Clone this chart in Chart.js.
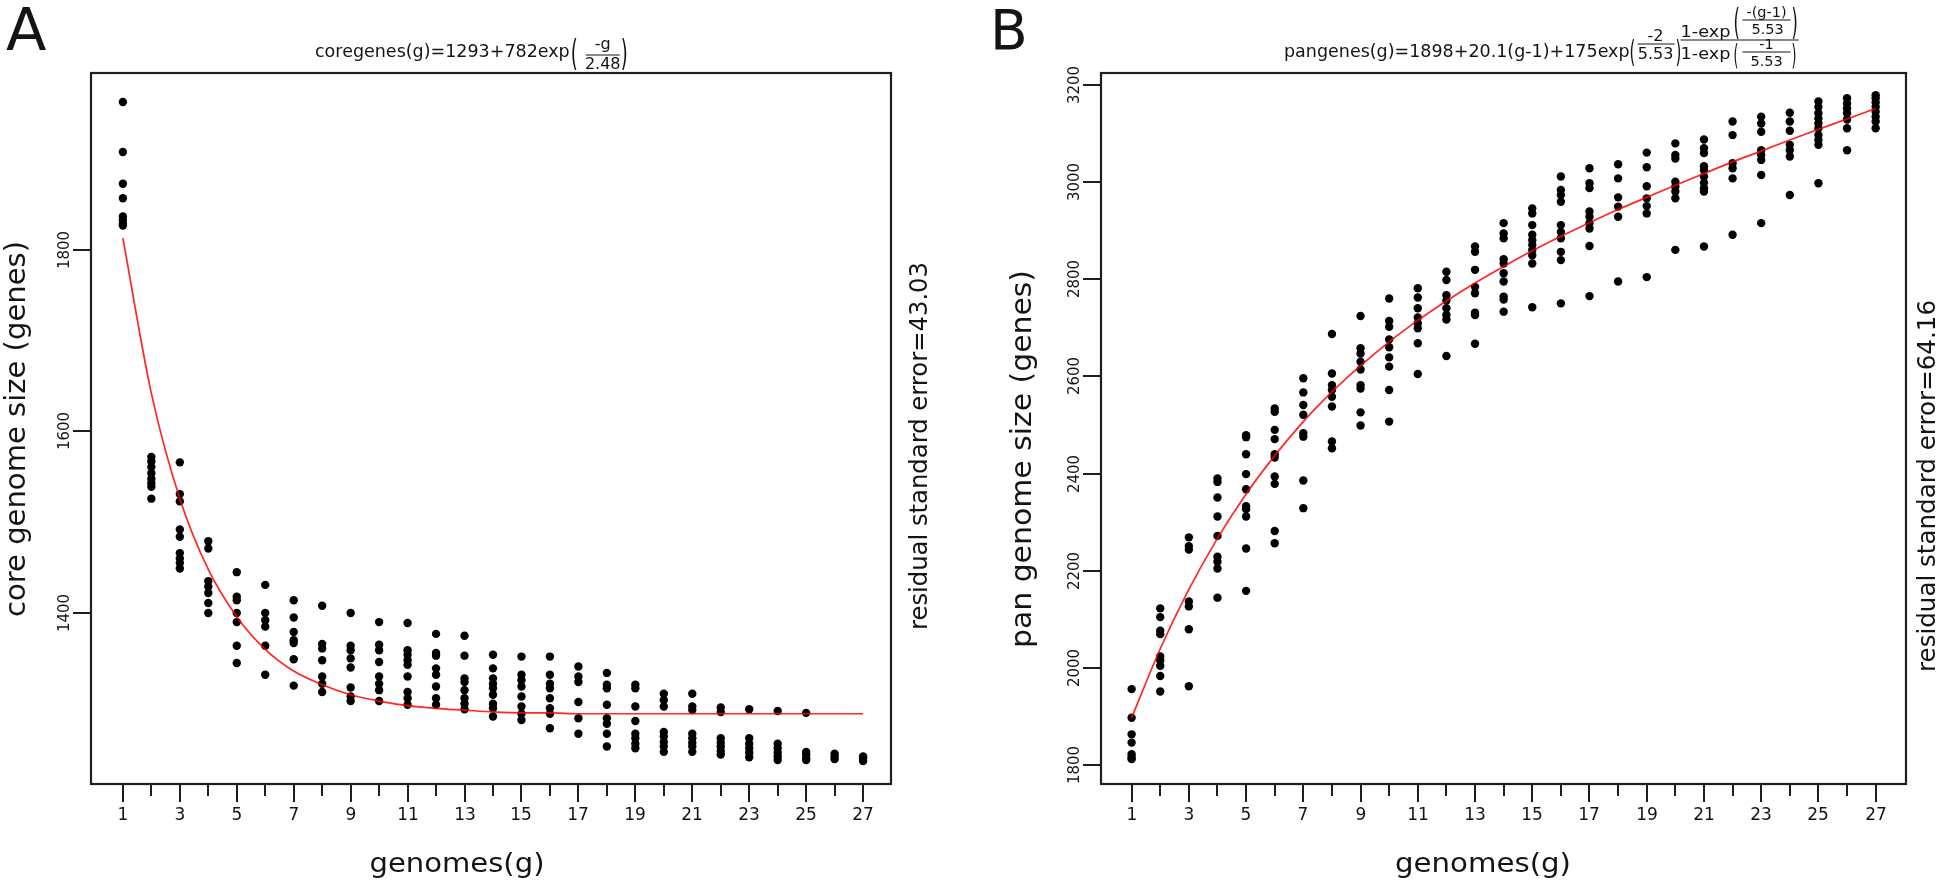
<!DOCTYPE html>
<html>
<head>
<meta charset="utf-8">
<script src="https://cdn.jsdelivr.net/npm/chart.js@4.4.0/dist/chart.umd.min.js"></script>
<style>
    html, body { margin: 0; padding: 0; background: #fff; }
    #wrap { position: relative; width: 1946px; height: 882px; overflow: hidden; }
    #wrap canvas { position: absolute; left: 0; top: 0; }
</style>
</head>
<body>
<div id="wrap">
    <canvas id="coreChart" width="1946" height="882"></canvas>
    <canvas id="panChart" width="1946" height="882"></canvas>
</div>
<script>
// genomes sampled (x)
const genomes = [1, 2, 3, 4, 5, 6, 7, 8, 9, 10, 11, 12, 13, 14, 15, 16, 17, 18, 19, 20, 21, 22, 23, 24, 25, 26, 27];
const xTickLabels = [1, 3, 5, 7, 9, 11, 13, 15, 17, 19, 21, 23, 25, 27];
const coreTickLabels = [1400, 1600, 1800];
const panTickLabels = [1800, 2000, 2200, 2400, 2600, 2800, 3000, 3200];

// core genome sizes for each number of genomes (one list per g)
const coreSizes = [
    [1963, 1908, 1873, 1857, 1837, 1833, 1829, 1827],
    [1572, 1567, 1561, 1554, 1548, 1543, 1539, 1526],
    [1566, 1531, 1523, 1492, 1484, 1466, 1460, 1455, 1449],
    [1479, 1471, 1435, 1429, 1422, 1411, 1400],
    [1445, 1418, 1414, 1400, 1390, 1364, 1345],
    [1431, 1400, 1392, 1385, 1364, 1332],
    [1414, 1395, 1379, 1370, 1367, 1349, 1320],
    [1408, 1366, 1361, 1348, 1330, 1322, 1313],
    [1400, 1364, 1359, 1350, 1340, 1318, 1308, 1303],
    [1390, 1365, 1359, 1346, 1330, 1322, 1315, 1303],
    [1389, 1359, 1354, 1348, 1343, 1330, 1313, 1306, 1299],
    [1377, 1356, 1353, 1339, 1332, 1319, 1306, 1299],
    [1375, 1353, 1328, 1324, 1315, 1306, 1300, 1294],
    [1354, 1339, 1328, 1322, 1317, 1310, 1300, 1295, 1286],
    [1352, 1332, 1326, 1319, 1308, 1297, 1289, 1282],
    [1352, 1332, 1322, 1317, 1306, 1295, 1289, 1273],
    [1341, 1330, 1324, 1302, 1284, 1267],
    [1334, 1321, 1317, 1299, 1284, 1278, 1267, 1253],
    [1321, 1317, 1297, 1281, 1267, 1262, 1256, 1251],
    [1311, 1304, 1297, 1269, 1264, 1258, 1253, 1247],
    [1311, 1297, 1293, 1267, 1262, 1257, 1253, 1247],
    [1296, 1291, 1262, 1257, 1253, 1248, 1244],
    [1294, 1262, 1256, 1251, 1246, 1241],
    [1292, 1256, 1251, 1246, 1242, 1238],
    [1290, 1247, 1244, 1240, 1238],
    [1245, 1242, 1239],
    [1242, 1240, 1237]
];
// red fitted curve, read at each g
const coreFit = [1813, 1642, 1526, 1448, 1396, 1360, 1336, 1321, 1310, 1303, 1298, 1295, 1293, 1291, 1290, 1290, 1289, 1289, 1289, 1289, 1289, 1289, 1289, 1289, 1289, 1289, 1289];

// pan genome sizes for each number of genomes
const panSizes = [
    [1957, 1898, 1864, 1847, 1823, 1817, 1813],
    [2123, 2105, 2077, 2070, 2024, 2016, 2005, 1984, 1952],
    [2269, 2251, 2244, 2137, 2127, 2080, 1963],
    [2390, 2383, 2351, 2312, 2272, 2229, 2219, 2205, 2145],
    [2479, 2475, 2440, 2399, 2368, 2333, 2327, 2312, 2246, 2159],
    [2534, 2527, 2490, 2471, 2440, 2433, 2394, 2379, 2282, 2257],
    [2596, 2567, 2541, 2521, 2483, 2476, 2386, 2329],
    [2687, 2606, 2582, 2572, 2558, 2538, 2466, 2452],
    [2724, 2658, 2647, 2630, 2614, 2582, 2575, 2526, 2499],
    [2760, 2714, 2702, 2676, 2660, 2639, 2620, 2572, 2507],
    [2781, 2762, 2740, 2721, 2709, 2699, 2668, 2605],
    [2815, 2798, 2767, 2756, 2740, 2726, 2717, 2642],
    [2867, 2856, 2819, 2784, 2771, 2731, 2726, 2667],
    [2915, 2894, 2884, 2841, 2832, 2812, 2795, 2764, 2758, 2733],
    [2945, 2935, 2911, 2891, 2880, 2870, 2860, 2849, 2832, 2742],
    [3011, 2983, 2973, 2959, 2911, 2897, 2884, 2856, 2839, 2750],
    [3028, 2997, 2987, 2939, 2928, 2915, 2904, 2868, 2765],
    [3036, 3007, 2968, 2949, 2928, 2795],
    [3060, 3030, 2991, 2966, 2950, 2935, 2804],
    [3079, 3055, 3048, 3000, 2990, 2980, 2966, 2860],
    [3087, 3069, 3059, 3032, 3024, 3011, 2998, 2987, 2980, 2867],
    [3124, 3096, 3038, 3028, 3007, 2891],
    [3134, 3120, 3103, 3065, 3055, 3045, 3014, 2915],
    [3142, 3124, 3105, 3076, 3065, 3052, 2973],
    [3165, 3154, 3141, 3130, 3120, 3110, 3096, 3086, 3076, 2997],
    [3172, 3161, 3151, 3141, 3128, 3110, 3065],
    [3178, 3172, 3163, 3154, 3144, 3134, 3124, 3110]
];
const panFit = [1898, 2040, 2162, 2267, 2358, 2437, 2507, 2568, 2622, 2671, 2715, 2755, 2792, 2826, 2858, 2888, 2916, 2943, 2968, 2993, 3017, 3041, 3063, 3086, 3108, 3129, 3151];

const FONT = '"DejaVu Sans", "Liberation Sans", sans-serif';
const INK = '#141414';

function toPoints(sizes) {
    const pts = [];
    sizes.forEach((vals, i) => vals.forEach(v => pts.push({ x: genomes[i], y: v })));
    return pts;
}

function label(ctx, str, x, y, size, opts = {}) {
    ctx.save();
    ctx.font = `${size}px ${FONT}`;
    ctx.fillStyle = INK;
    ctx.textAlign = opts.align || 'left';
    ctx.textBaseline = opts.baseline || 'alphabetic';
    ctx.translate(x, y);
    if (opts.rotate) ctx.rotate(opts.rotate);
    const w = ctx.measureText(str).width;
    const sx = opts.fit ? opts.fit / w : (opts.sx || 1);
    ctx.scale(sx, 1);
    ctx.fillText(str, 0, 0);
    ctx.restore();
    return w * sx;
}

function bar(ctx, x1, x2, y) {
    ctx.save();
    ctx.strokeStyle = INK;
    ctx.lineWidth = 1.2;
    ctx.beginPath();
    ctx.moveTo(x1, y);
    ctx.lineTo(x2, y);
    ctx.stroke();
    ctx.restore();
}

// box, ticks and labels drawn from the chart's own scales
function drawFrame(chart, yTicks) {
    const ctx = chart.ctx, a = chart.chartArea;
    const xs = chart.scales.x, ys = chart.scales.y;
    ctx.save();
    ctx.strokeStyle = '#1e1e1e';
    ctx.lineWidth = 2.2;
    ctx.strokeRect(a.left, a.top, a.right - a.left, a.bottom - a.top);
    ctx.lineWidth = 2;
    genomes.forEach(g => {
        const px = Math.round(xs.getPixelForValue(g));
        const major = xTickLabels.includes(g);
        ctx.beginPath();
        ctx.moveTo(px, a.bottom);
        ctx.lineTo(px, a.bottom + (major ? 18 : 12));
        ctx.stroke();
        if (major) label(ctx, String(g), px, a.bottom + 36, 17, { align: 'center' });
    });
    yTicks.forEach(v => {
        const py = Math.round(ys.getPixelForValue(v));
        ctx.beginPath();
        ctx.moveTo(a.left - 18, py);
        ctx.lineTo(a.left, py);
        ctx.stroke();
        label(ctx, String(v), a.left - 22, py, 15, { align: 'center', rotate: -Math.PI / 2 });
    });
    ctx.restore();
}

const corePlugin = {
    id: 'coreDecor',
    afterDraw(chart) {
        const ctx = chart.ctx;
        drawFrame(chart, coreTickLabels);
        label(ctx, 'A', 6, 50, 59);
        let x = 315;
        x += label(ctx, 'coregenes(g)=1293+782exp', x, 57, 17.5);
        label(ctx, '(', x + 1, 65, 36, { sx: 0.5 });
        const c = x + 33;
        label(ctx, '-g', c, 49, 16, { align: 'center' });
        bar(ctx, c - 17, c + 17, 55);
        label(ctx, '2.48', c, 69, 16, { align: 'center' });
        label(ctx, ')', c + 18, 65, 36, { sx: 0.5 });
        label(ctx, 'core genome size (genes)', 18, 429, 28, { align: 'center', baseline: 'middle', rotate: -Math.PI / 2, fit: 376 });
        label(ctx, 'genomes(g)', 457, 872, 26, { align: 'center', fit: 175 });
        label(ctx, 'residual standard error=43.03', 921, 446, 24, { align: 'center', baseline: 'middle', rotate: -Math.PI / 2, fit: 368 });
    }
};

const panPlugin = {
    id: 'panDecor',
    afterDraw(chart) {
        const ctx = chart.ctx;
        drawFrame(chart, panTickLabels);
        label(ctx, 'B', 990, 49, 55);
        let p = 1284;
        p += label(ctx, 'pangenes(g)=1898+20.1(g-1)+175exp', p, 57, 17.5);
        label(ctx, '(', p, 62, 30, { sx: 0.5 });
        label(ctx, '-2', p + 26, 41, 16, { align: 'center' });
        bar(ctx, p + 8, p + 45, 44);
        label(ctx, '5.53', p + 26, 59, 16, { align: 'center' });
        label(ctx, ')', p + 46, 62, 30, { sx: 0.5 });
        const q = p + 51;
        label(ctx, '1-exp', q, 37, 16.5, { fit: 50 });
        label(ctx, '1-exp', q, 59, 16.5, { fit: 50 });
        bar(ctx, q, q + 118, 40);
        label(ctx, '(', q + 53, 34, 36, { sx: 0.45 });
        label(ctx, '-(g-1)', q + 86, 17, 14.5, { align: 'center' });
        bar(ctx, q + 62, q + 110, 20);
        label(ctx, '5.53', q + 87, 34, 14.5, { align: 'center' });
        label(ctx, ')', q + 111, 34, 36, { sx: 0.45 });
        label(ctx, '(', q + 53, 65, 28, { sx: 0.45 });
        label(ctx, '-1', q + 86, 49, 14.5, { align: 'center' });
        bar(ctx, q + 62, q + 110, 52);
        label(ctx, '5.53', q + 86, 66, 14.5, { align: 'center' });
        label(ctx, ')', q + 111, 65, 28, { sx: 0.45 });
        label(ctx, 'pan genome size (genes)', 1024, 459, 28, { align: 'center', baseline: 'middle', rotate: -Math.PI / 2, fit: 378 });
        label(ctx, 'genomes(g)', 1483, 872, 26, { align: 'center', fit: 176 });
        label(ctx, 'residual standard error=64.16', 1929, 486, 24, { align: 'center', baseline: 'middle', rotate: -Math.PI / 2, fit: 372 });
    }
};

function makeChart(id, sizes, fit, padding, xRange, yRange, plugin) {
    const ctx = document.getElementById(id).getContext('2d');
    return new Chart(ctx, {
        type: 'scatter',
        data: {
            datasets: [{
                data: genomes.map((g, i) => ({ x: g, y: fit[i] })),
                showLine: true,
                borderColor: 'rgba(255, 0, 0, 0.85)',
                borderWidth: 1.7,
                pointRadius: 0,
                cubicInterpolationMode: 'monotone',
                order: 0
            }, {
                data: toPoints(sizes),
                backgroundColor: '#000',
                borderColor: '#000',
                borderWidth: 0,
                pointRadius: 4.2,
                order: 1
            }]
        },
        options: {
            responsive: false,
            animation: false,
            devicePixelRatio: 1,
            layout: { padding: padding },
            plugins: { legend: { display: false }, tooltip: { enabled: false } },
            events: [],
            scales: {
                x: { type: 'linear', display: false, min: xRange[0], max: xRange[1] },
                y: { type: 'linear', display: false, min: yRange[0], max: yRange[1] }
            }
        },
        plugins: [plugin]
    });
}

makeChart('coreChart', coreSizes, coreFit, { left: 91, top: 73, right: 1055, bottom: 98 }, [-0.12, 27.98], [1211.6, 1995], corePlugin);
makeChart('panChart', panSizes, panFit, { left: 1101, top: 73, right: 40, bottom: 98 }, [-0.07, 28.06], [1761.9, 3223.7], panPlugin);
</script>
</body>
</html>
